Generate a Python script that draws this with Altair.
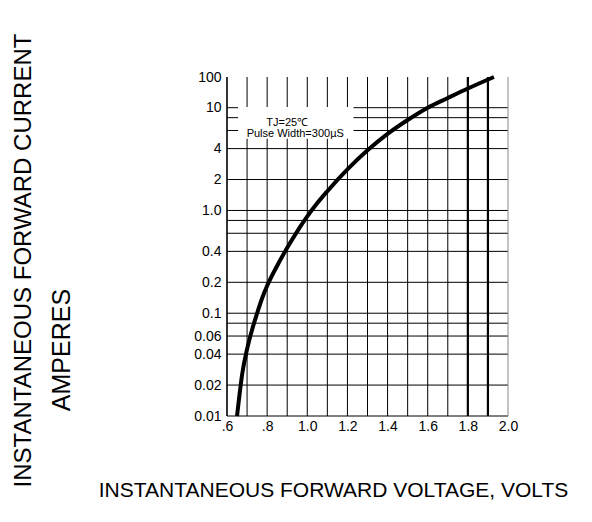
import altair as alt
import pandas as pd

# Curve: instantaneous forward voltage (V) vs forward current (A)
volts = [0.65, 0.66, 0.675, 0.70, 0.725, 0.75, 0.775, 0.80, 0.85, 0.90, 0.95,
         1.00, 1.05, 1.10, 1.20, 1.30, 1.40, 1.50, 1.60, 1.70, 1.80, 1.93]
amps = [0.01, 0.0148, 0.0251, 0.0447, 0.0692, 0.1, 0.14, 0.185, 0.29, 0.434, 0.627,
        0.875, 1.18, 1.54, 2.51, 3.85, 5.56, 7.59, 10, 20.7, 42.2, 100]

# Axis ticks / labels
x_ticks = [0.6, 0.8, 1.0, 1.2, 1.4, 1.6, 1.8, 2.0]
x_labels = [".6", ".8", "1.0", "1.2", "1.4", "1.6", "1.8", "2.0"]
y_ticks = [0.01, 0.02, 0.04, 0.06, 0.1, 0.2, 0.4, 1, 2, 4, 10, 100]
y_labels = ["0.01", "0.02", "0.04", "0.06", "0.1", "0.2", "0.4", "1.0", "2", "4", "10", "100"]

# Grid lines
h_grid = [0.01, 0.02, 0.04, 0.06, 0.08, 0.1, 0.2, 0.4, 0.6, 0.8, 1, 2, 4, 6, 8, 10]
v_grid = [0.6, 0.7, 0.8, 0.9, 1.0, 1.1, 1.2, 1.3, 1.4, 1.5, 1.6, 1.7, 1.8, 1.9, 2.0]
v_grid_width = [1, 1, 1, 1, 1, 1, 1, 1, 1, 1, 1, 1, 2.2, 2.2, 1]
v_grid_color = ["black"] * 14 + ["#888888"]

# Annotation
note_lines = ["TJ=25\u2103", "Pulse Width=300\u00b5S"]
note_x = [0.9, 0.94]
note_y = [7.1, 5.6]
box = {"x0": [0.655], "x1": [1.23], "y0": [5.0], "y1": [10.5]}

FONT = "Liberation Sans"
W, H = 281, 339

def lbl_expr(vals, labs):
    expr = "''"
    for v, l in zip(reversed(vals), reversed(labs)):
        expr = f"abs(datum.value - {v}) < 1e-9 ? '{l}' : ({expr})"
    return expr

xscale = alt.Scale(domain=[0.6, 2.0], nice=False, zero=False)
yscale = alt.Scale(type="log", domain=[0.01, 10, 100], range=[H, 30.7, 0], nice=False)

curve_df = pd.DataFrame({"V": volts, "I": amps})
hdf = pd.DataFrame({"I": h_grid})
vdf = pd.DataFrame({"V": v_grid, "w": v_grid_width, "c": v_grid_color})
box_df = pd.DataFrame(box)
note_df = pd.DataFrame({"V": note_x, "I": note_y, "t": note_lines})
amp_df = pd.DataFrame({"t": ["AMPERES"]})

xaxis = alt.Axis(values=x_ticks, labelExpr=lbl_expr(x_ticks, x_labels), grid=False,
                 domain=False, ticks=False, labelPadding=3, labelFlush=False,
                 labelFont=FONT, labelFontSize=14, labelColor="black",
                 title="INSTANTANEOUS FORWARD VOLTAGE, VOLTS",
                 titleFont=FONT, titleFontSize=21,
                 titleFontWeight="normal", titleColor="black",
                 titleX=106, titleY=74, titleAlign="center", titleBaseline="middle")
yaxis = alt.Axis(values=y_ticks, labelExpr=lbl_expr(y_ticks, y_labels), grid=False,
                 domain=False, ticks=False, labelPadding=6, labelOverlap=False,
                 labelFont=FONT, labelFontSize=14, labelColor="black",
                 title="INSTANTANEOUS FORWARD CURRENT", titleFont=FONT,
                 titleFontSize=24, titleFontWeight="normal", titleColor="black",
                 titleAngle=270, titleX=-204, titleY=183, titleAlign="center",
                 titleBaseline="middle")

hgrid = alt.Chart(hdf).mark_rule(color="black", strokeWidth=1).encode(
    y=alt.Y("I:Q", scale=yscale, axis=yaxis))
vgrid = alt.Chart(vdf).mark_rule().encode(
    x=alt.X("V:Q", scale=xscale, axis=xaxis),
    strokeWidth=alt.StrokeWidth("w:Q", scale=None, legend=None),
    color=alt.Color("c:N", scale=None, legend=None))
left_border = alt.Chart(pd.DataFrame({"V": [0.6]})).mark_rule(color="black", strokeWidth=1.2).encode(
    x=alt.X("V:Q", scale=xscale))
whitebox = alt.Chart(box_df).mark_rect(color="white").encode(
    x=alt.X("x0:Q", scale=xscale), x2="x1:Q",
    y=alt.Y("y0:Q", scale=yscale), y2="y1:Q")
notes = alt.Chart(note_df).mark_text(font=FONT, fontSize=11, color="black",
                                     align="center", baseline="middle").encode(
    x=alt.X("V:Q", scale=xscale), y=alt.Y("I:Q", scale=yscale), text="t:N")
curve = alt.Chart(curve_df).mark_line(color="black", strokeWidth=4,
                                      interpolate="monotone").encode(
    x=alt.X("V:Q", scale=xscale), y=alt.Y("I:Q", scale=yscale))
amp = alt.Chart(amp_df).mark_text(font=FONT, fontSize=25, color="black", angle=270,
                                  align="center", baseline="middle").encode(
    x=alt.value(-165), y=alt.value(273), text="t:N")

chart = alt.layer(hgrid, vgrid, left_border, whitebox, notes, curve, amp).properties(
    width=W, height=H,
    autosize=alt.AutoSizeParams(type="none"),
    padding={"left": 219, "top": 69, "right": 76, "bottom": 90},
    background="white",
).configure_view(stroke=None)

chart.save("out.html", embed_options={"renderer": "svg", "actions": False})
